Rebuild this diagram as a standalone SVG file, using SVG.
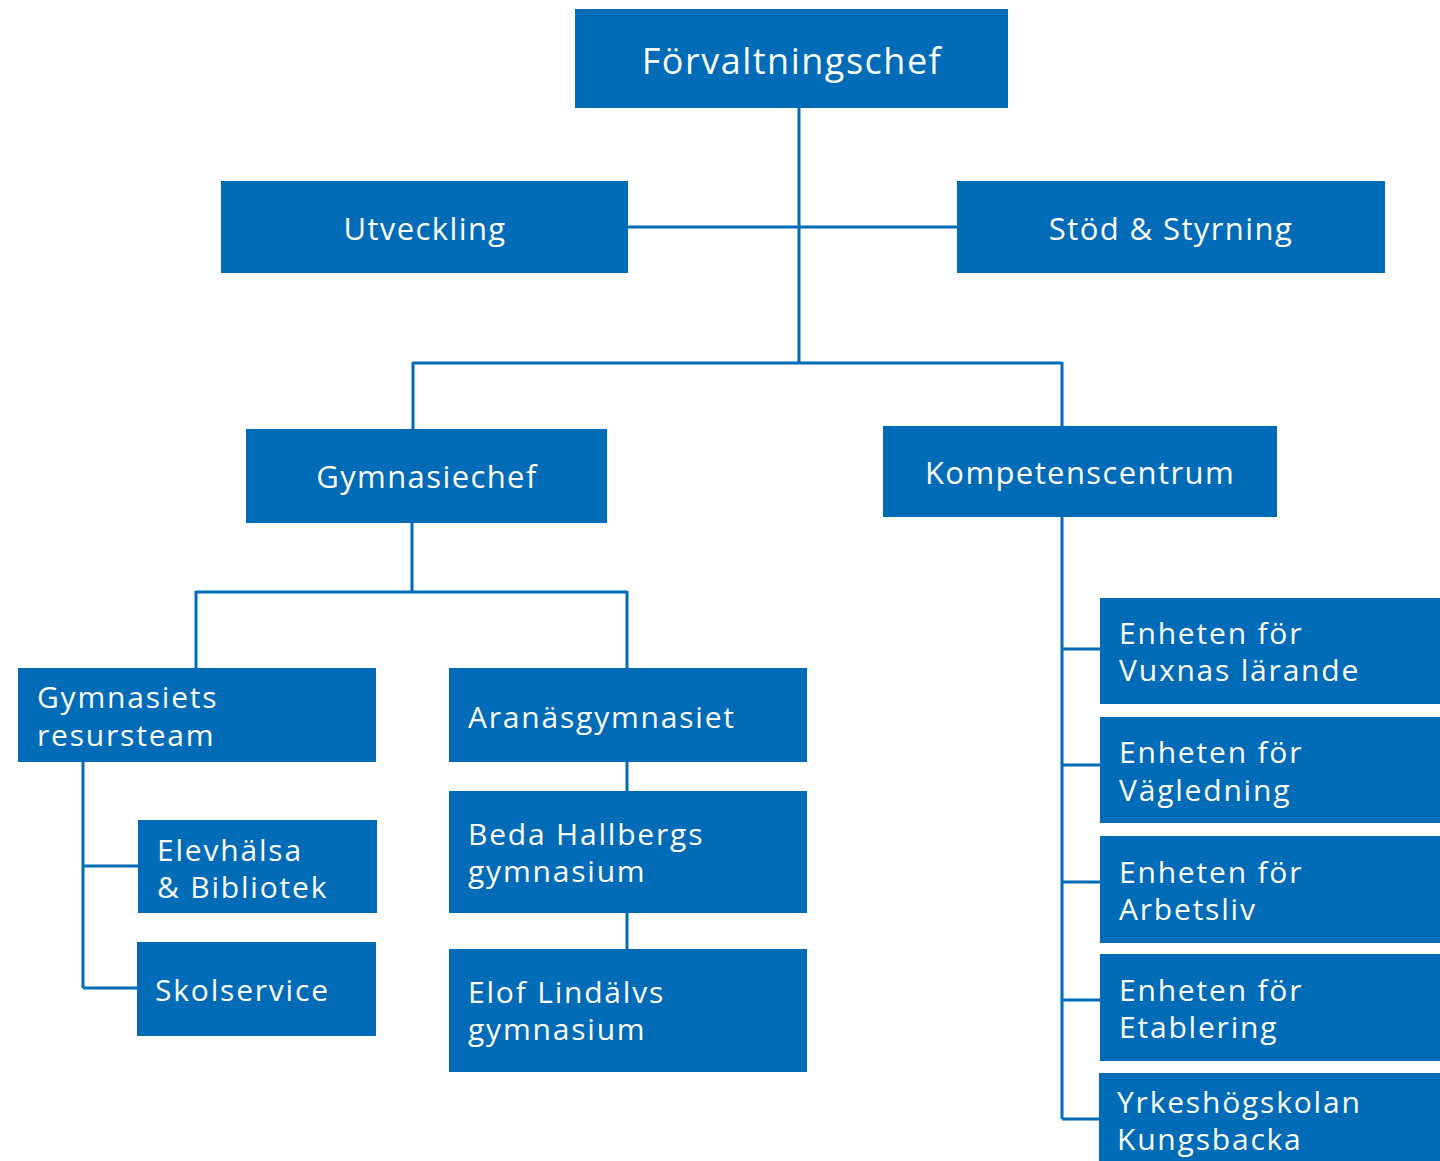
<svg xmlns="http://www.w3.org/2000/svg" width="1440" height="1161" viewBox="0 0 1440 1161">
<style>
.box{fill:#006BB6}
.t{fill:#fff;font-family:"Open Sans","Liberation Sans",sans-serif;font-size:30px;letter-spacing:1.8px}
.tc{text-anchor:middle}
.l1{font-size:36px;letter-spacing:1.5px}
.l2{font-size:31px;letter-spacing:1.4px}
.c{stroke:#006BB6;stroke-width:3;fill:none}
</style>
<rect width="1440" height="1161" fill="#fff"/>
<g id="connectors">
<path class="c" d="M799 108V363M628 227H957M413 363H1062M413 362V429M1062 362V426"/>
<path class="c" d="M412 523V592M196 592H627M196 591V668M627 591V668"/>
<path class="c" d="M83 762V988M83 866H138M83 988H137"/>
<path class="c" d="M627 762V791M627 913V949"/>
<path class="c" d="M1062 517V1119M1062 649H1100M1062 765H1100M1062 882H1100M1062 1000H1100M1062 1119H1099"/>
</g>
<g id="n-forvaltningschef"><rect class="box" x="575" y="9" width="433" height="99"/><text class="t tc l1" x="792" y="74">Förvaltningschef</text></g>
<g id="n-utveckling"><rect class="box" x="221" y="181" width="407" height="92"/><text class="t tc l2" x="425" y="240">Utveckling</text></g>
<g id="n-stod"><rect class="box" x="957" y="181" width="428" height="92"/><text class="t tc l2" x="1171" y="240">Stöd &amp; Styrning</text></g>
<g id="n-gymnasiechef"><rect class="box" x="246" y="429" width="361" height="94"/><text class="t tc l2" x="427" y="488">Gymnasiechef</text></g>
<g id="n-kompetens"><rect class="box" x="883" y="426" width="394" height="91"/><text class="t tc l2" x="1080" y="484">Kompetenscentrum</text></g>
<g id="n-resursteam"><rect class="box" x="18" y="668" width="358" height="94"/><text class="t" x="37" y="708">Gymnasiets</text><text class="t" x="37" y="746">resursteam</text></g>
<g id="n-elevhalsa"><rect class="box" x="138" y="820" width="239" height="93"/><text class="t" x="157" y="861">Elevhälsa</text><text class="t" x="157" y="898">&amp; Bibliotek</text></g>
<g id="n-skolservice"><rect class="box" x="137" y="942" width="239" height="94"/><text class="t" x="155" y="1001">Skolservice</text></g>
<g id="n-aranas"><rect class="box" x="449" y="668" width="358" height="94"/><text class="t" x="468" y="728">Aranäsgymnasiet</text></g>
<g id="n-beda"><rect class="box" x="449" y="791" width="358" height="122"/><text class="t" x="468" y="845">Beda Hallbergs</text><text class="t" x="468" y="882">gymnasium</text></g>
<g id="n-elof"><rect class="box" x="449" y="949" width="358" height="123"/><text class="t" x="468" y="1003">Elof Lindälvs</text><text class="t" x="468" y="1040">gymnasium</text></g>
<g id="n-vuxnas"><rect class="box" x="1100" y="598" width="340" height="106"/><text class="t" x="1119" y="644">Enheten för</text><text class="t" x="1119" y="681">Vuxnas lärande</text></g>
<g id="n-vagledning"><rect class="box" x="1100" y="717" width="340" height="106"/><text class="t" x="1119" y="763">Enheten för</text><text class="t" x="1119" y="801">Vägledning</text></g>
<g id="n-arbetsliv"><rect class="box" x="1100" y="836" width="340" height="107"/><text class="t" x="1119" y="883">Enheten för</text><text class="t" x="1119" y="920">Arbetsliv</text></g>
<g id="n-etablering"><rect class="box" x="1100" y="954" width="340" height="107"/><text class="t" x="1119" y="1001">Enheten för</text><text class="t" x="1119" y="1038">Etablering</text></g>
<g id="n-yrkes"><rect class="box" x="1099" y="1073" width="341" height="88"/><text class="t" x="1117" y="1113">Yrkeshögskolan</text><text class="t" x="1117" y="1150">Kungsbacka</text></g>
</svg>
